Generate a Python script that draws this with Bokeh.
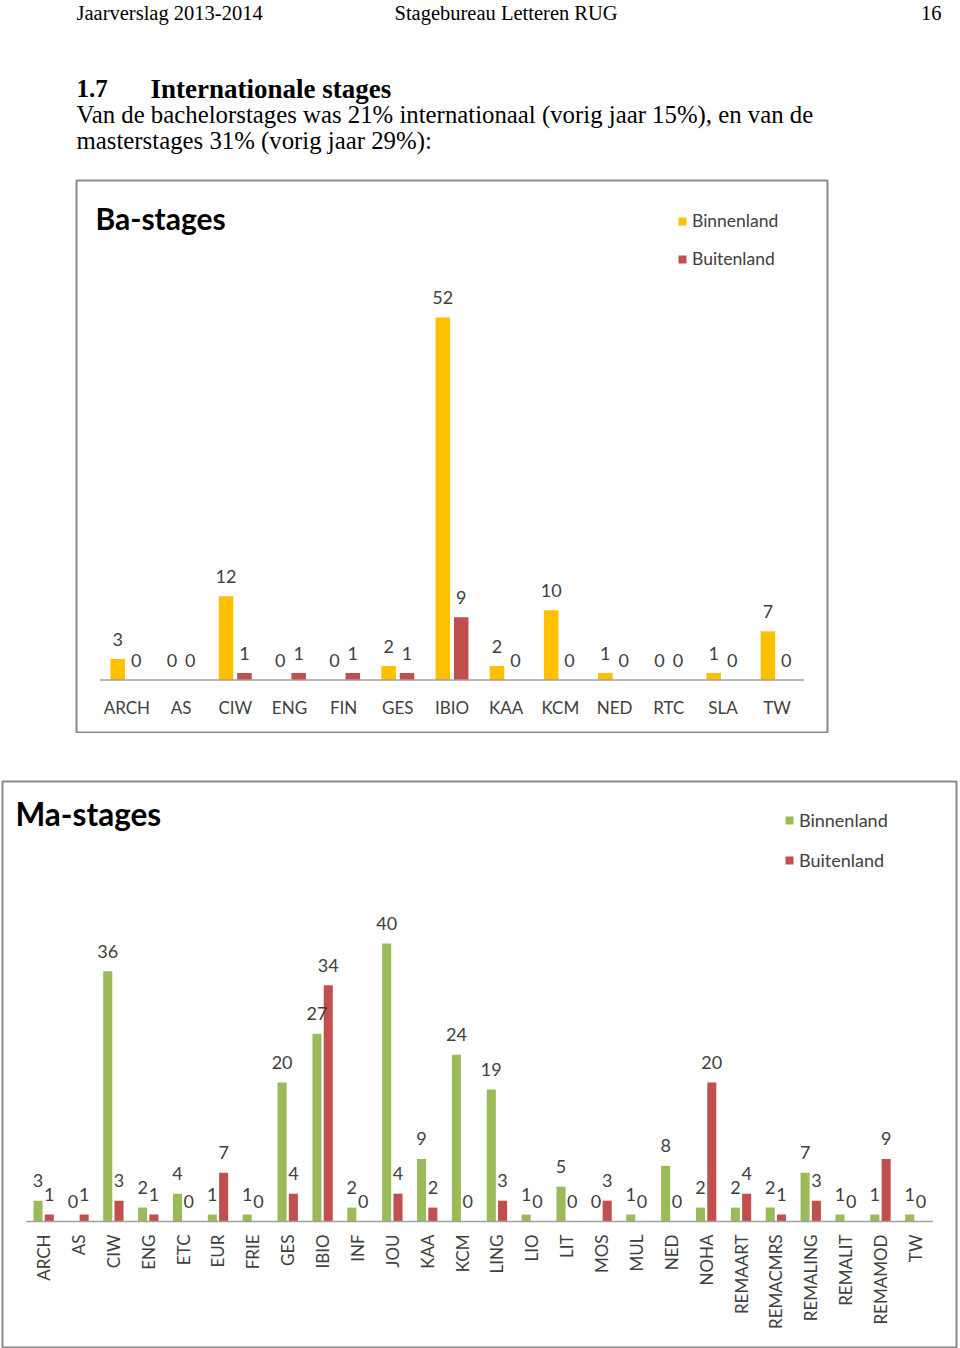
import math
from bokeh.plotting import figure
from bokeh.models import ColumnDataSource, FactorRange, Range1d, Label
from bokeh.transform import dodge
from bokeh.core.properties import value
from bokeh.embed import file_html
from bokeh.resources import INLINE

# ---------------- data ----------------
ba_cats = ["ARCH", "AS", "CIW", "ENG", "FIN", "GES", "IBIO", "KAA", "KCM", "NED", "RTC", "SLA", "TW"]
ba_binnen = [3, 0, 12, 0, 0, 2, 52, 2, 10, 1, 0, 1, 7]
ba_buiten = [0, 0, 1, 1, 1, 1, 9, 0, 0, 0, 0, 0, 0]

ma_cats = ["ARCH", "AS", "CIW", "ENG", "ETC", "EUR", "FRIE", "GES", "IBIO", "INF", "JOU", "KAA", "KCM",
           "LING", "LIO", "LIT", "MOS", "MUL", "NED", "NOHA", "REMAART", "REMACMRS", "REMALING",
           "REMALIT", "REMAMOD", "TW"]
ma_binnen = [3, 0, 36, 2, 4, 1, 1, 20, 27, 2, 40, 9, 24, 19, 1, 5, 0, 1, 8, 2, 2, 2, 7, 1, 1, 1]
ma_buiten = [1, 1, 3, 1, 0, 7, 0, 4, 34, 0, 4, 2, 0, 3, 0, 0, 3, 0, 0, 20, 4, 1, 3, 0, 9, 0]

series_names = ["Binnenland", "Buitenland"]

YELLOW = "#FFC000"
RED = "#C0504D"
GREEN = "#9BBB59"
TXT = "#404040"
FONT = "Lato"
SERIF = "Liberation Serif"

# ---------------- header ----------------
hdr = figure(width=960, height=179, x_range=Range1d(0, 960), y_range=Range1d(179, 0),
             x_axis_location=None, y_axis_location=None, toolbar_location=None,
             output_backend="svg", min_border=0)
hdr.grid.visible = False
hdr.outline_line_color = None

def hlabel(x, y, text, size, bold=False, align="left"):
    hdr.add_layout(Label(x=x, y=y, text=text, text_font=SERIF, text_font_size=size,
                         text_font_style="bold" if bold else "normal", text_color="#000000",
                         text_align=align, text_baseline="middle"))

hlabel(76, 12, "Jaarverslag 2013-2014", "20.5px")
hlabel(394, 12, "Stagebureau Letteren RUG", "20.5px")
hlabel(941, 12, "16", "20.5px", align="right")
hlabel(76, 88, "1.7", "25px", bold=True)
hlabel(150, 88, "Internationale stages", "27px", bold=True)
hlabel(76, 114, "Van de bachelorstages was 21% internationaal (vorig jaar 15%), en van de", "24.8px")
hlabel(76, 140, "masterstages 31% (vorig jaar 29%):", "24.8px")


def make_chart(cats, binnen, buiten, col1, title, width, height, mb, pad, yr, bw, off,
               rotate, legend_loc, legend_spacing, legend_size, title_xy, title_size):
    p = figure(width=width, height=height,
               x_range=FactorRange(*cats, range_padding=pad, range_padding_units="absolute"),
               y_range=Range1d(*yr),
               x_axis_location=None, y_axis_location=None, toolbar_location=None,
               output_backend="svg",
               min_border_left=mb[0], min_border_right=mb[1],
               min_border_top=mb[2], min_border_bottom=mb[3])
    p.grid.visible = False
    p.outline_line_color = "#8a8a8a"
    p.outline_line_width = 2
    p.background_fill_color = "white"
    p.border_fill_color = "white"

    src = ColumnDataSource(dict(
        cat=cats, binnen=binnen, buiten=buiten,
        binnen_lbl=[str(v) for v in binnen], buiten_lbl=[str(v) for v in buiten],
        zero=[0] * len(cats),
    ))
    p.vbar(x=dodge("cat", -off, range=p.x_range), top="binnen", width=bw, source=src,
           fill_color=col1, line_color=None, legend_label=series_names[0])
    p.vbar(x=dodge("cat", off, range=p.x_range), top="buiten", width=bw, source=src,
           fill_color=RED, line_color=None, legend_label=series_names[1])

    # baseline (category axis line)
    bsrc = ColumnDataSource(dict(x0=[cats[0]], x1=[cats[-1]], y=[0]))
    p.segment(x0=dodge("x0", -0.5, range=p.x_range), x1=dodge("x1", 0.5, range=p.x_range),
              y0="y", y1="y", source=bsrc, line_color="#a0a0a0", line_width=1.5)

    # value labels
    for fld, o in (("binnen", -off), ("buiten", off)):
        p.text(x=dodge("cat", o, range=p.x_range), y=fld, text=fld + "_lbl", source=src,
               y_offset=-20, text_align="center", text_baseline="middle",
               text_font=value(FONT), text_font_size="18px", text_color=TXT)

    # category labels
    if rotate:
        p.text(x="cat", y="zero", text="cat", source=src, angle=math.pi / 2,
               y_offset=13, text_align="right", text_baseline="middle",
               text_font=value(FONT), text_font_size="17px", text_color=TXT)
    else:
        p.text(x="cat", y="zero", text="cat", source=src, y_offset=27,
               text_align="center", text_baseline="middle",
               text_font=value(FONT), text_font_size="17px", text_color=TXT)

    lg = p.legend[0]
    lg.location = legend_loc
    lg.padding = 0
    lg.margin = 0
    lg.border_line_color = None
    lg.background_fill_alpha = 0
    lg.glyph_width = 10
    lg.glyph_height = 10
    lg.label_standoff = 5
    lg.spacing = legend_spacing
    lg.label_height = 20
    lg.label_text_font = FONT
    lg.label_text_font_size = legend_size
    lg.label_text_color = TXT

    p.add_layout(Label(x=title_xy[0], y=title_xy[1], x_units="screen", y_units="screen",
                       text=title, text_font=FONT, text_font_size=title_size,
                       text_font_style="bold", text_color="#000000",
                       text_baseline="middle"))
    return p


p1 = make_chart(ba_cats, ba_binnen, ba_buiten, YELLOW, "Ba-stages",
                width=960, height=554, mb=(76, 133, 1, 1), pad=0.43,
                yr=(-7.53, 71.66), bw=0.268, off=0.17, rotate=False,
                legend_loc=(601, 463), legend_spacing=17, legend_size="17.5px",
                title_xy=(19, 515), title_size="30px")

p2 = make_chart(ma_cats, ma_binnen, ma_buiten, GREEN, "Ma-stages",
                width=960, height=615, mb=(2, 4, 48, 1), pad=0.68,
                yr=(-18.13, 63.31), bw=0.26, off=0.162, rotate=True,
                legend_loc=(782, 476), legend_spacing=18, legend_size="18px",
                title_xy=(13, 534), title_size="31.5px")

open("out.html", "w").write(file_html([hdr, p1, p2], INLINE))
